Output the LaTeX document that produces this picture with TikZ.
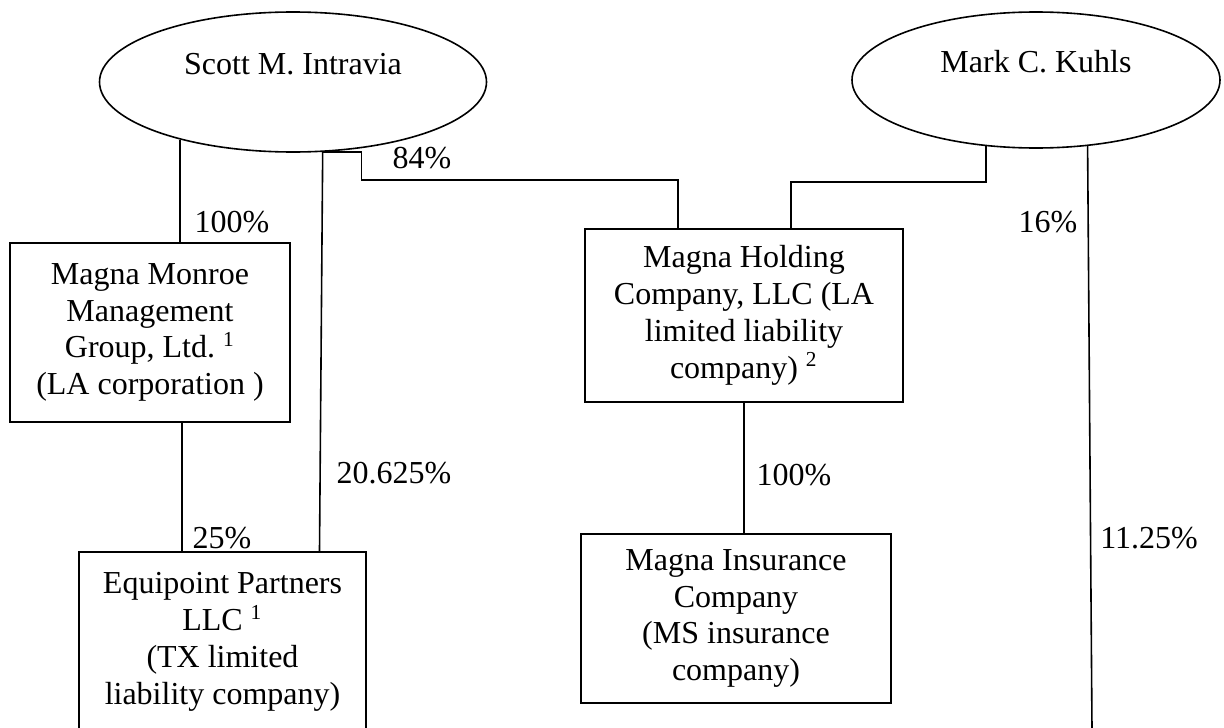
\documentclass[tikz,border=0pt]{standalone}
\usepackage{fontspec}
\setmainfont{Liberation Serif}
\usepackage{tikz}
\usetikzlibrary{shapes.geometric}
\usetikzlibrary{calc}
\newlength{\unitpx}
\setlength{\unitpx}{0.375pt}

\tikzset{
  owner/.style={draw, ellipse, inner sep=0pt, text height=22\unitpx, text depth=36\unitpx},
  entity/.style={draw, rectangle, inner sep=0pt, align=center},
  pct/.style={inner sep=0pt},
}

\begin{document}
\begin{tikzpicture}[x=0.375pt,y=-0.375pt,line width=0.6pt,font=\fontsize{12}{13.8}\selectfont]
\useasboundingbox (0,0) rectangle (1224,728);
\clip (0,0) rectangle (1224,728);

%% owners
\node[owner,minimum width=387\unitpx,minimum height=140\unitpx] (scott) at (293,82) {Scott M. Intravia};
\node[owner,minimum width=368\unitpx,minimum height=136\unitpx] (mark) at (1036,80) {Mark C. Kuhls};

%% companies
\node[entity,minimum width=280\unitpx,minimum height=179\unitpx] (monroe) at (150,332.5)
  {Magna Monroe\\Management\\Group, Ltd.~\textsuperscript{1}\\(LA corporation )};
\node[entity,minimum width=287\unitpx,minimum height=180\unitpx] (equip) at (222.5,642)
  {Equipoint Partners\\LLC~\textsuperscript{1}\\(TX limited\\liability company)};
\node[entity,minimum width=318\unitpx,minimum height=173\unitpx] (hold) at (744,315.5)
  {Magna Holding\\Company, LLC (LA\\limited liability\\company)~\textsuperscript{2}};
\node[entity,minimum width=310\unitpx,minimum height=169\unitpx] (ins) at (736,618.5)
  {Magna Insurance\\Company\\(MS insurance\\company)};
\coordinate (markend) at (1092,728);

%% ownership lines
\draw (scott.207) -- (scott.207 |- monroe.north);
\draw ([xshift=32\unitpx]monroe.south) -- ([xshift=32\unitpx]monroe.south |- equip.north);
\draw (scott.293) -- ([xshift=97\unitpx]equip.north);
\draw (scott.293) -- ++(39,0) -- ++(0,28) -| ([xshift=-66\unitpx]hold.north);
\draw (mark.233) -- ++(0,36) -| ([xshift=47\unitpx]hold.north);
\draw (mark.308) -- (markend);
\draw (hold.south) -- (hold.south |- ins.north);

%% percentages
\foreach \lx/\ly/\ltext [count=\i] in {232/222/100\%, 422/158/84\%, 1048/222/16\%,
    394/473/20.625\%, 222/538/25\%, 794/475/100\%, 1149/538/11.25\%}
  \node[pct] (pct\i) at (\lx,\ly) {\ltext};
\end{tikzpicture}
\end{document}
